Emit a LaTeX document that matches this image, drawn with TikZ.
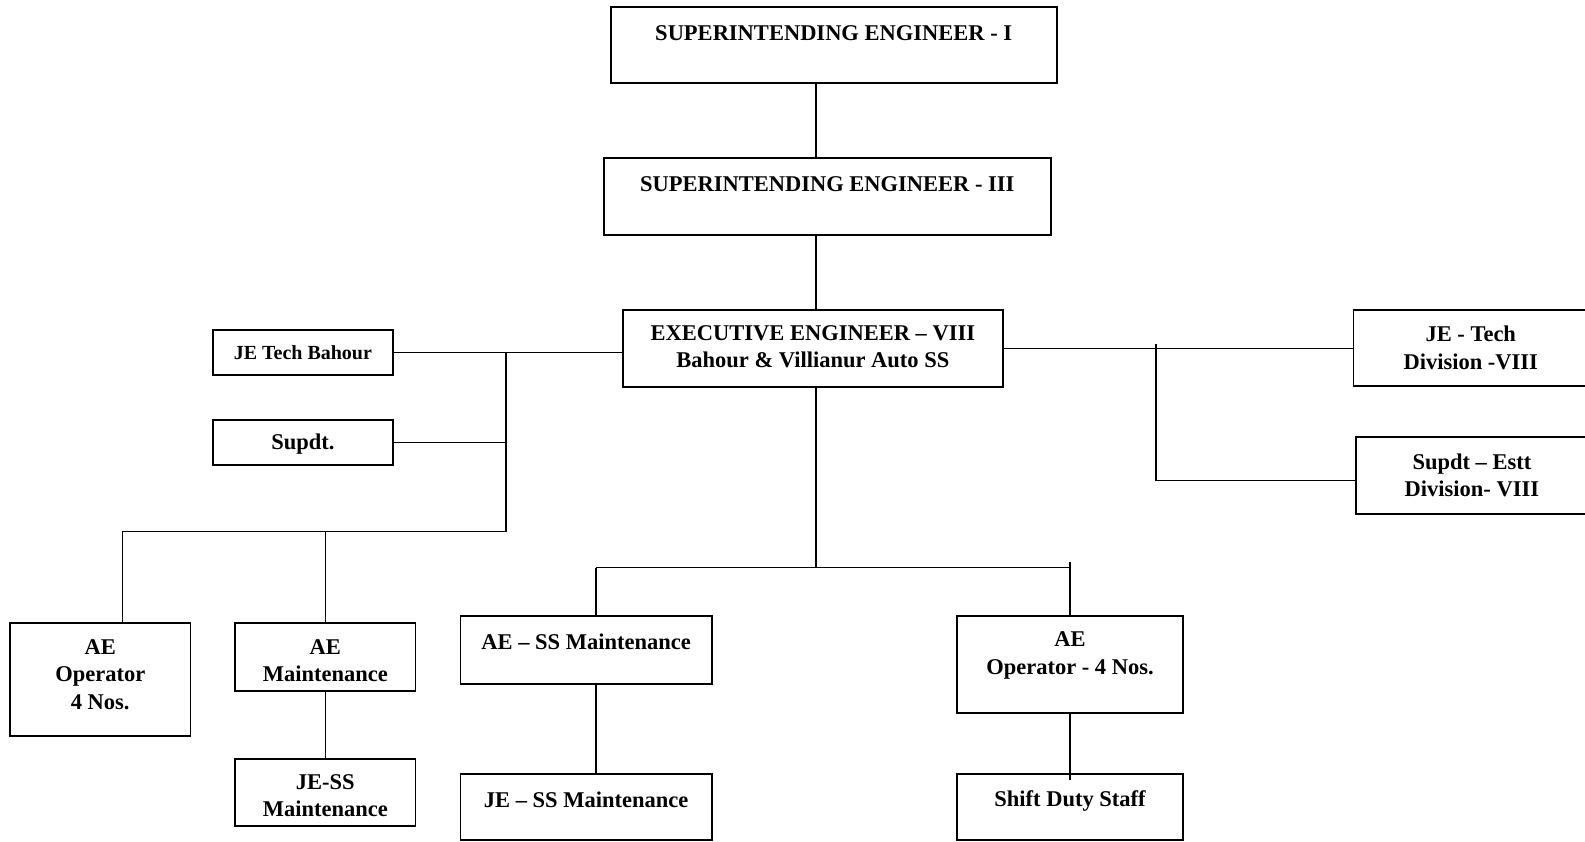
\documentclass[tikz,border=0pt]{standalone}
\usepackage{fontspec}
\setmainfont{Liberation Serif}
\newcommand{\up}[1]{\rule{0pt}{#1}}
\newcommand{\dn}[1]{\rule[-#1]{0pt}{#1}}

\begin{document}
\begin{tikzpicture}[x = 0.5pt, y = -0.5pt,
    box/.style = {draw, line width = 0.9pt, anchor = north, inner xsep = 0pt, inner ysep = 0pt,
                  align = center, font = \bfseries\fontsize{11.25}{13.75}\selectfont},
    link/.style = {line width = 0.75pt}]
    \useasboundingbox (0,0) rectangle (1585,841);

    \node[box, minimum width = 223pt] (se1) at (833.7,6) {\up{16.7pt}SUPERINTENDING ENGINEER - I\dn{21.3pt}};
    \node[box, minimum width = 223.3pt] (se3) at (827.3,157) {\up{16.7pt}SUPERINTENDING ENGINEER - III\dn{21.8pt}};
    \node[box, minimum width = 189.9pt] (ee) at (812.9,309) {\up{15.2pt}EXECUTIVE ENGINEER – VIII\\Bahour \& Villianur Auto SS\dn{9.4pt}};

    \node[box, minimum width = 90.2pt, font = \bfseries\fontsize{10}{12}\selectfont] (jetb) at (302.9,329) {\up{14.65pt}JE Tech Bahour\dn{7.7pt}};
    \node[box, minimum width = 90.2pt] (supdt) at (302.9,418.7) {\up{15pt}Supdt.\dn{7.8pt}};
    \node[box, minimum width = 117.25pt] (jetech) at (1470.75,309) {\up{15.85pt}JE - Tech\\Division -VIII\dn{8.4pt}};
    \node[box, minimum width = 116.1pt] (estt) at (1471.9,436) {\up{16.2pt}Supdt – Estt\\Division- VIII\dn{8.4pt}};

    \node[box, minimum width = 90.25pt] (aeop) at (100.25,622.3) {\up{15.55pt}AE\\Operator\\4 Nos.\dn{13.3pt}};
    \node[box, minimum width = 90.25pt] (aemt) at (325.25,622.3) {\up{15.55pt}AE\\Maintenance\dn{4.55pt}};
    \node[box, minimum width = 90.25pt] (jess) at (325.25,758) {\up{15.05pt}JE-SS\\Maintenance\dn{4.7pt}};
    \node[box, minimum width = 125.6pt] (aess) at (586.1,615.3) {\up{16.55pt}AE – SS Maintenance\dn{17.3pt}};
    \node[box, minimum width = 125.6pt] (jessm) at (586.1,773.3) {\up{16.4pt}JE – SS Maintenance\dn{16.45pt}};
    \node[box, minimum width = 113.3pt] (aeop4) at (1070,615) {\up{15.35pt}AE\\Operator - 4 Nos.\dn{19.55pt}};
    \node[box, minimum width = 113.3pt] (shift) at (1070,772.7) {\up{16.5pt}Shift Duty Staff\dn{16.65pt}};

    \coordinate (spine) at (816,0);
    \draw[link] (se1.south -| spine) -- (se3.north -| spine);
    \draw[link] (se3.south -| spine) -- (ee.north -| spine);

    \coordinate (lbus) at (506,531.7);
    \coordinate (opdrop) at (122.6,531.7);
    \draw[link] (jetb.east) -- (jetb.east -| ee.west);
    \draw[link] (jetb.east -| lbus) -- (lbus);
    \draw[link] (supdt.east) -- (supdt.east -| lbus);
    \draw[link] (lbus) -- (opdrop) -- (opdrop |- aeop.north);
    \draw[link] (aemt.north) -- (aemt.north |- lbus);
    \draw[link] (aemt.south) -- (jess.north);

    \coordinate (mbus) at (816,567.7);
    \coordinate (ssdrop) at (596,567.7);
    \coordinate (opstub) at (1070,562);
    \draw[link] (ee.south -| spine) -- (mbus);
    \draw[link] (ssdrop) -- (mbus -| opstub);
    \draw[link] (ssdrop) -- (ssdrop |- aess.north);
    \draw[link] (opstub) -- (aeop4.north);
    \draw[link] (aess.south -| ssdrop) -- (jessm.north -| ssdrop);
    \draw[link] (aeop4.south) -- ([yshift = -3.5pt]shift.north);

    \coordinate (rtop) at (1156,344);
    \coordinate (rbus) at (1156,480.3);
    \draw[link] (ee.east) -- (ee.east -| jetech.west);
    \draw[link] (rtop) -- (rbus) -- (rbus -| estt.west);
\end{tikzpicture}
\end{document}
